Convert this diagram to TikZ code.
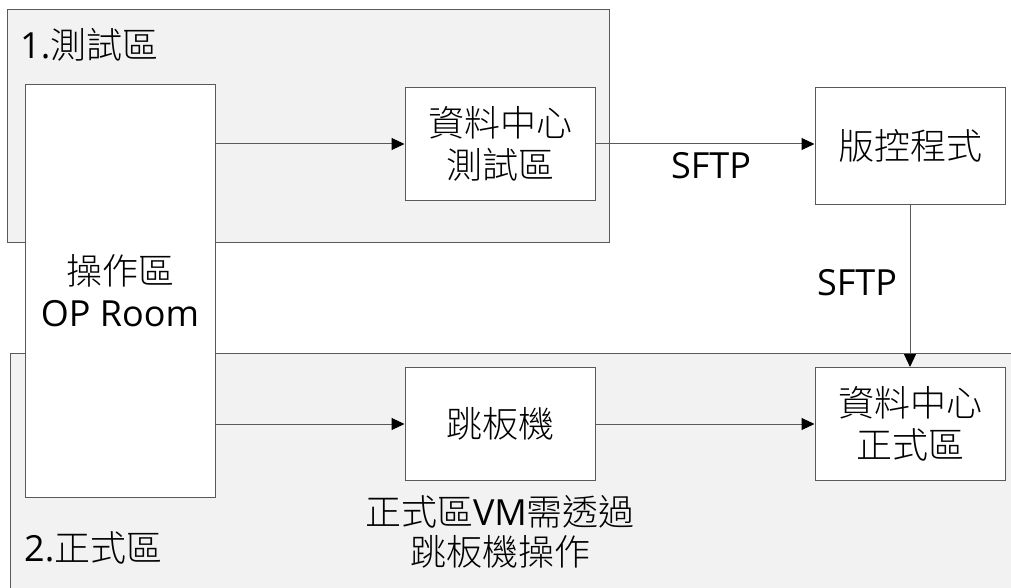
\documentclass[tikz,border=0pt]{standalone}
\usepackage{fontspec}
\setmainfont{Noto Sans CJK TC Light}
\newfontfamily\lat{Open Sans}
\usetikzlibrary{arrows.meta}

\begin{document}
\begin{tikzpicture}[x=1pt, y=-1pt,
    zone/.style={draw=black!65, fill=black!5, line width=1pt},
    box/.style={draw=black!65, fill=white, line width=1pt, inner sep=0pt,
      align=center, font=\fontsize{36}{42}\selectfont},
    link/.style={draw=black!65, line width=1pt,
      -{Triangle[length=13pt,width=12pt,color=black]}},
    txt/.style={font=\fontsize{36}{40}\selectfont, align=center, inner sep=0pt}]
    \useasboundingbox (0,0) rectangle (1011,588);
    % zones
    \fill[white] (0,0) rectangle (1011,588);
    \draw[zone] (7,10) rectangle (609,242);
    \draw[zone] (10,353) rectangle (1020,600);
    \node[txt, anchor=west] (zt) at (20,45) {{\lat 1.}測試區};
    \node[txt, anchor=west] (zp) at (24,548) {{\lat 2.}正式區};
    % boxes
    \node[box, minimum width=190pt, minimum height=412pt] (op) at (120,291) {操作區\\{\lat OP Room}};
    \node[box, minimum width=190pt, minimum height=112pt] (dct) at (500,144) {資料中心\\測試區};
    \node[box, minimum width=190pt, minimum height=117pt] (ver) at (910,146) {版控程式};
    \node[box, minimum width=190pt, minimum height=113pt] (jump) at (500,424) {跳板機};
    \node[box, minimum width=190pt, minimum height=113pt] (dcp) at (910,424) {資料中心\\正式區};
    % links
    \draw[link] (op.east |- dct) -- (dct.west);
    \draw[link] (dct.east) -- (ver.west |- dct);
    \draw[link] (ver.south) -- (dcp.north);
    \draw[link] (op.east |- jump) -- (jump.west);
    \draw[link] (jump.east) -- (dcp.west);
    \node[txt] (s1) at (711,166) {\lat SFTP};
    \node[txt] (s2) at (857,283) {\lat SFTP};
    \node[txt] (note) at (500,532) {正式區{\lat VM}需透過\\跳板機操作};
\end{tikzpicture}
\end{document}
